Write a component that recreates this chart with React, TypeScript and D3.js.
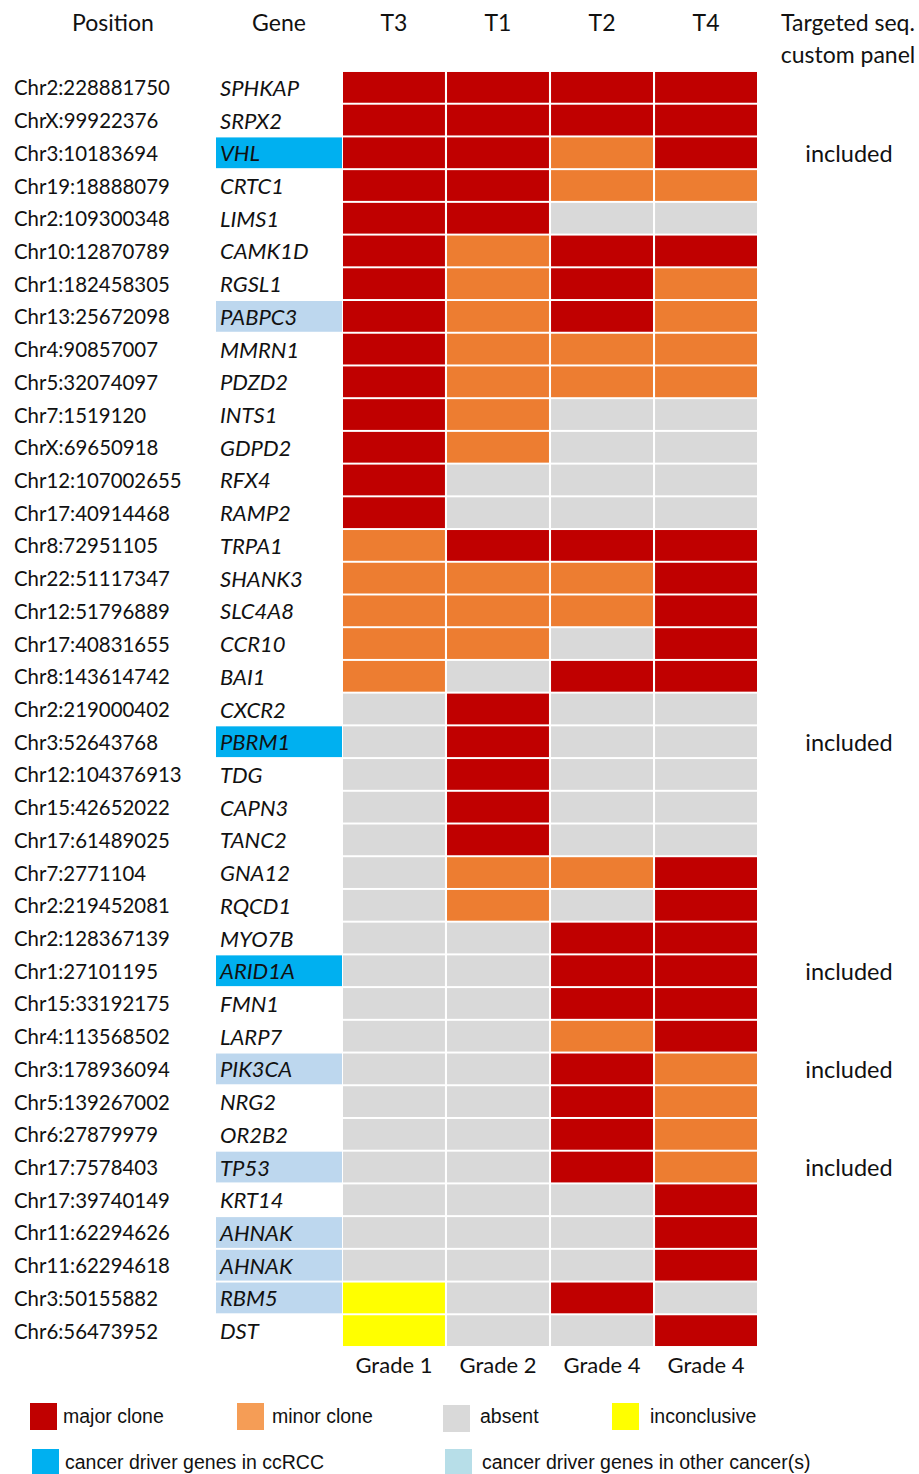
import React from "react";
import * as d3 from "d3";

// Mutation positions, genes and clonal status per tumour region
const positions = [
  "Chr2:228881750", "ChrX:99922376", "Chr3:10183694", "Chr19:18888079", "Chr2:109300348",
  "Chr10:12870789", "Chr1:182458305", "Chr13:25672098", "Chr4:90857007", "Chr5:32074097",
  "Chr7:1519120", "ChrX:69650918", "Chr12:107002655", "Chr17:40914468", "Chr8:72951105",
  "Chr22:51117347", "Chr12:51796889", "Chr17:40831655", "Chr8:143614742", "Chr2:219000402",
  "Chr3:52643768", "Chr12:104376913", "Chr15:42652022", "Chr17:61489025", "Chr7:2771104",
  "Chr2:219452081", "Chr2:128367139", "Chr1:27101195", "Chr15:33192175", "Chr4:113568502",
  "Chr3:178936094", "Chr5:139267002", "Chr6:27879979", "Chr17:7578403", "Chr17:39740149",
  "Chr11:62294626", "Chr11:62294618", "Chr3:50155882", "Chr6:56473952",
];

const genes = [
  "SPHKAP", "SRPX2", "VHL", "CRTC1", "LIMS1", "CAMK1D", "RGSL1", "PABPC3", "MMRN1", "PDZD2",
  "INTS1", "GDPD2", "RFX4", "RAMP2", "TRPA1", "SHANK3", "SLC4A8", "CCR10", "BAI1", "CXCR2",
  "PBRM1", "TDG", "CAPN3", "TANC2", "GNA12", "RQCD1", "MYO7B", "ARID1A", "FMN1", "LARP7",
  "PIK3CA", "NRG2", "OR2B2", "TP53", "KRT14", "AHNAK", "AHNAK", "RBM5", "DST",
];

// Driver annotation
const ccrccDrivers = ["VHL", "PBRM1", "ARID1A"];
const otherDrivers = ["PABPC3", "PIK3CA", "TP53", "AHNAK", "RBM5"];

// Genes covered by the targeted sequencing custom panel
const panelGenes = ["VHL", "PBRM1", "ARID1A", "PIK3CA", "TP53"];

const tumours = ["T3", "T1", "T2", "T4"];
const grades = ["Grade 1", "Grade 2", "Grade 4", "Grade 4"];

// Status codes: M major clone, m minor clone, a absent, i inconclusive
const statusT3 = [
  "M", "M", "M", "M", "M", "M", "M", "M", "M", "M", "M", "M", "M", "M",
  "m", "m", "m", "m", "m",
  "a", "a", "a", "a", "a", "a", "a", "a", "a", "a", "a", "a", "a", "a", "a", "a", "a", "a",
  "i", "i",
];
const statusT1 = [
  "M", "M", "M", "M", "M", "m", "m", "m", "m", "m", "m", "m", "a", "a",
  "M", "m", "m", "m", "a",
  "M", "M", "M", "M", "M", "m", "m", "a", "a", "a", "a", "a", "a", "a", "a", "a", "a", "a",
  "a", "a",
];
const statusT2 = [
  "M", "M", "m", "m", "a", "M", "M", "M", "m", "m", "a", "a", "a", "a",
  "M", "m", "m", "a", "M",
  "a", "a", "a", "a", "a", "m", "a", "M", "M", "M", "m", "M", "M", "M", "M", "a", "a", "a",
  "M", "a",
];
const statusT4 = [
  "M", "M", "M", "m", "a", "M", "m", "m", "m", "m", "a", "a", "a", "a",
  "M", "M", "M", "M", "M",
  "a", "a", "a", "a", "a", "M", "M", "M", "M", "M", "M", "m", "m", "m", "m", "M", "M", "M",
  "a", "M",
];

const statusColumns: Record<string, string[]> = {
  T3: statusT3,
  T1: statusT1,
  T2: statusT2,
  T4: statusT4,
};

const statusColor: Record<string, string> = {
  M: "#C00000",
  m: "#ED7D31",
  a: "#D9D9D9",
  i: "#FFFF00",
};

const legendLabels = ["major clone", "minor clone", "absent", "inconclusive"];
const legendColors = ["#C00000", "#F59D56", "#D9D9D9", "#FFFF00"];
const driverLabels = ["cancer driver genes in ccRCC", "cancer driver genes in other cancer(s)"];
const driverColors = ["#00B0F0", "#B7DEE8"];

const W = 919;
const H = 1474;
const FONT = "Lato, 'Open Sans', sans-serif";
const LEGEND_FONT = "'Liberation Sans', Arial, sans-serif";

// Legend layout (swatch left edge, text offset from swatch)
const legendRow1 = [
  { x: 30, dx: 33, y: 1403 },
  { x: 237, dx: 35, y: 1403 },
  { x: 443, dx: 37, y: 1405 },
  { x: 612, dx: 38, y: 1403 },
];
const legendRow2 = [
  { x: 32, dx: 33, y: 1449 },
  { x: 445, dx: 37, y: 1449 },
];

export default function App() {
  const rows = d3.range(positions.length);
  const y = d3.scaleBand<number>().domain(rows).range([71, 1347]).paddingInner(0.06).paddingOuter(0.03);
  const x = d3.scaleBand<string>().domain(tumours).range([343, 757]).paddingInner(0.02);
  const rowMid = (i: number) => (y(i) as number) + y.bandwidth() / 2;
  const colMid = (t: string) => (x(t) as number) + x.bandwidth() / 2;

  return (
    <div style={{ position: "absolute", left: 0, top: 0 }}>
      <svg width={W} height={H} style={{ display: "block", background: "#fff" }}>
        {/* column headers */}
        <g fontFamily={FONT} fontSize={23} fill="#111" textAnchor="middle">
          <text x={113} y={22} dominantBaseline="central">Position</text>
          <text x={279} y={22} dominantBaseline="central">Gene</text>
          {tumours.map((t) => (
            <text key={t} x={colMid(t)} y={22} dominantBaseline="central">
              {t}
            </text>
          ))}
          <text x={848} y={22} dominantBaseline="central">Targeted seq.</text>
          <text x={848} y={54} dominantBaseline="central">custom panel</text>
        </g>

        {/* row labels */}
        <g fontFamily={FONT} fill="#111">
          {rows.map((i) => {
            const g = genes[i];
            const bg = ccrccDrivers.includes(g) ? "#00B0F0" : otherDrivers.includes(g) ? "#BDD7EE" : null;
            return (
              <g key={i}>
                <text x={14} y={rowMid(i)} fontSize={20.4} dominantBaseline="central">{positions[i]}</text>
                {bg && <rect x={216} y={y(i)} width={126} height={y.bandwidth()} fill={bg} />}
                <text x={220} y={rowMid(i)} fontSize={22} dominantBaseline="central" fontStyle="italic">{g}</text>
                {panelGenes.includes(g) && (
                  <text x={849} y={rowMid(i)} fontSize={23.5} dominantBaseline="central" textAnchor="middle">
                    included
                  </text>
                )}
              </g>
            );
          })}
        </g>

        {/* heatmap cells */}
        <g>
          {tumours.map((t) =>
            rows.map((i) => (
              <rect
                key={t + i}
                x={x(t)}
                y={y(i)}
                width={x.bandwidth()}
                height={y.bandwidth()}
                fill={statusColor[statusColumns[t][i]]}
              />
            ))
          )}
        </g>

        {/* tumour grades */}
        <g fontFamily={FONT} fontSize={22} fill="#111" textAnchor="middle">
          {tumours.map((t, k) => (
            <text key={t} x={colMid(t)} y={1364} dominantBaseline="central">
              {grades[k]}
            </text>
          ))}
        </g>

        {/* legend */}
        <g fontFamily={LEGEND_FONT} fontSize={19.5} fill="#111">
          {legendLabels.map((label, k) => {
            const p = legendRow1[k];
            return (
              <g key={label}>
                <rect x={p.x} y={p.y} width={27} height={27} fill={legendColors[k]} />
                <text x={p.x + p.dx} y={1416} dominantBaseline="central">{label}</text>
              </g>
            );
          })}
          {driverLabels.map((label, k) => {
            const p = legendRow2[k];
            return (
              <g key={label}>
                <rect x={p.x} y={p.y} width={27} height={27} fill={driverColors[k]} />
                <text x={p.x + p.dx} y={1462} dominantBaseline="central">{label}</text>
              </g>
            );
          })}
        </g>
      </svg>
    </div>
  );
}
